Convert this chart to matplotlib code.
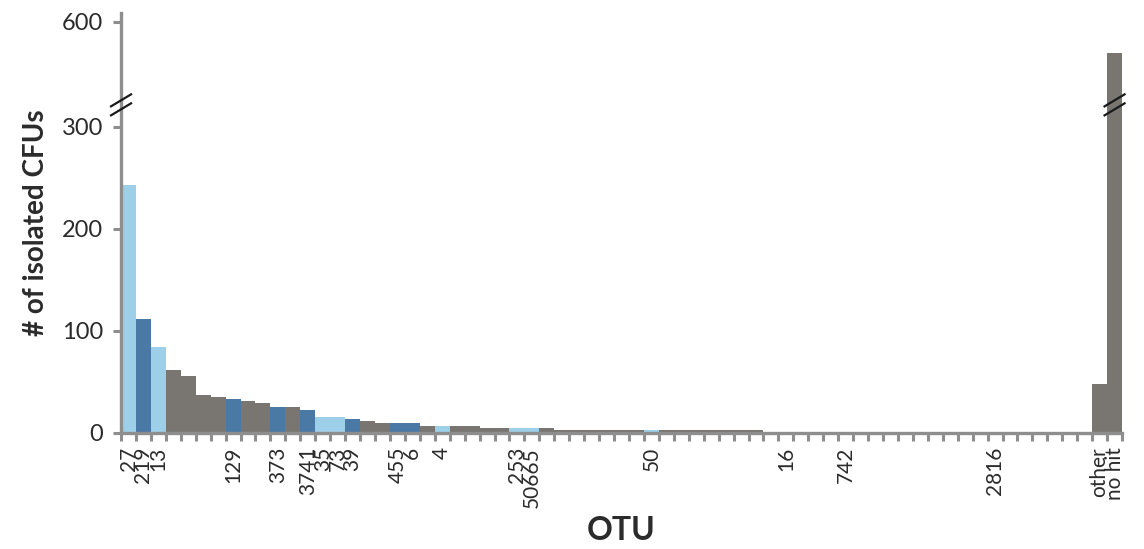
import matplotlib
matplotlib.use("Agg")
import matplotlib.pyplot as plt
import numpy as np

# ---------------- data ----------------
values = [243, 112, 84, 62, 56, 37, 35, 33, 31, 29,
          25, 25, 23, 16, 16, 14, 12, 10, 10, 10,
          7, 7, 7, 7, 5, 5, 5, 5, 5, 3,
          3, 3, 3, 3, 3, 3, 3, 3, 3, 3,
          3, 3, 3, 1, 1, 1, 1, 1, 1, 1,
          1, 1, 1, 1, 1, 1, 1, 1, 1, 1,
          1, 1, 1, 1, 1, 48, 511]

# L = light blue, D = dark blue, G = grey
groups = list("LDLGGGGDGGDGDLLDGGDDGLGGGGLLGGGGGGGLGGGGGGGGLGGGLGGGGGGGGGLGGGGGGGG")

labels = [""] * len(values)
label_map = {0: "27", 1: "219", 2: "13", 7: "129", 10: "373", 12: "3741",
             13: "35", 14: "73", 15: "39", 18: "455", 19: "6", 21: "4",
             26: "253", 27: "50665", 35: "50", 44: "16", 48: "742",
             58: "2816", 65: "other", 66: "no hit"}
for k, v in label_map.items():
    labels[k] = v

ytick_values = [0, 100, 200, 300, 600]

# ---------------- style ----------------
colors = {"L": "#9dcfe8", "D": "#4a79a5", "G": "#797672"}
axis_grey = "#8e8e8e"
text_col = "#2b2b2b"

BREAK_LOW = 300.0
RATIO = 0.343   # compression factor above the break


def forward(y):
    y = np.asarray(y, dtype=float)
    return np.where(y <= BREAK_LOW, y, BREAK_LOW + (y - BREAK_LOW) * RATIO)


def inverse(y):
    y = np.asarray(y, dtype=float)
    return np.where(y <= BREAK_LOW, y, BREAK_LOW + (y - BREAK_LOW) / RATIO)


plt.rcParams["font.family"] = ["Lato", "DejaVu Sans"]

fig = plt.figure(figsize=(11.44, 5.49), dpi=100)
ax = fig.add_axes([0.1058, 0.2113, 0.8750, 0.765])

ax.set_yscale("function", functions=(forward, inverse))

n = len(values)
x = np.arange(n)
ax.bar(x, values, width=1.0, align="edge",
       color=[colors[g] for g in groups], linewidth=0, zorder=2)

ax.set_xlim(0, n)
ax.set_ylim(0, 625)

# spines
for s in ["top", "right"]:
    ax.spines[s].set_visible(False)
for s in ["left", "bottom"]:
    ax.spines[s].set_color(axis_grey)
    ax.spines[s].set_linewidth(2.4)
    ax.spines[s].set_zorder(3)

# y ticks
ax.set_yticks(ytick_values)
ax.set_yticklabels([str(v) for v in ytick_values])
ax.tick_params(axis="y", direction="out", length=6, width=2.2,
               color=axis_grey, labelsize=17, labelcolor=text_col, pad=7)

# x ticks: boundaries as minor ticks, labels at centres as major ticks
ax.set_xticks(np.arange(0, n + 1), minor=True)
ax.set_xticks(x + 0.5)
ax.set_xticklabels(labels, rotation=90, va="top", ha="center")
ax.tick_params(axis="x", which="major", length=0, labelsize=15,
               labelcolor=text_col, pad=10)
ax.tick_params(axis="x", which="minor", direction="out", length=5.5,
               width=2.2, color=axis_grey)

ax.set_ylabel("# of isolated CFUs", fontsize=20, fontweight="bold",
              color=text_col, labelpad=9)
ax.set_xlabel("OTU", fontsize=23, fontweight="bold", color=text_col,
              labelpad=6)


def slant(xc_disp, yc_disp):
    for dy in (-4.5, 4.5):
        xs = np.array([xc_disp - 10, xc_disp + 10])
        ys = np.array([yc_disp + dy - 6, yc_disp + dy + 6])
        fig.add_artist(plt.Line2D(xs / fig.bbox.width, ys / fig.bbox.height,
                                  color="#1a1a1a", lw=1.6, zorder=6))


# break marks at the break level on the axis and on the tallest bar
ybreak = float(inverse(321.5))
fig.canvas.draw()
yb_disp = ax.transData.transform((0, ybreak))[1]
x_axis_disp = ax.transData.transform((0, 0))[0]
x_bar_disp = ax.transData.transform((n - 0.5, 0))[0]
slant(x_axis_disp, yb_disp)
slant(x_bar_disp, yb_disp)

fig.savefig("out.png", dpi=100, facecolor="white")
